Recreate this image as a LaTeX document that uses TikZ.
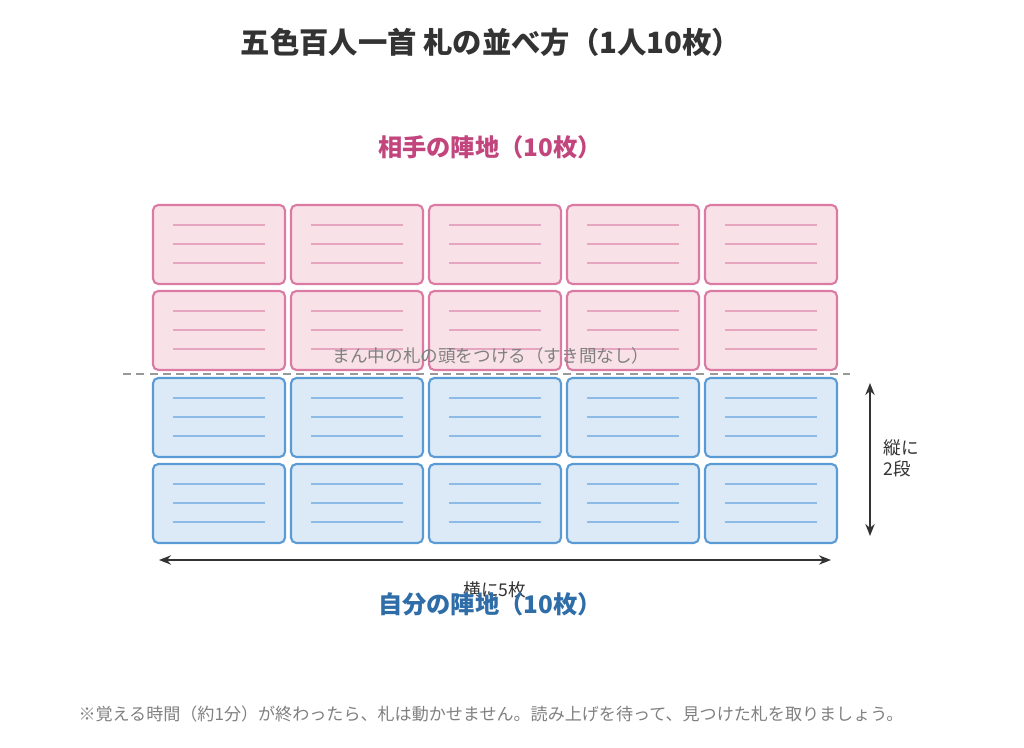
\documentclass[tikz,border=0pt]{standalone}
\usepackage{fontspec}
\setmainfont{Noto Sans CJK JP}
\usetikzlibrary{arrows.meta}
\definecolor{pinkline}{HTML}{DB7AA3}
\definecolor{pinkfill}{HTML}{F9E1E8}
\definecolor{pinkrule}{HTML}{E7A6C0}
\definecolor{pinktext}{HTML}{C2457D}
\definecolor{blueline}{HTML}{5B9BD5}
\definecolor{bluefill}{HTML}{DCEAF8}
\definecolor{bluerule}{HTML}{8DBBE6}
\definecolor{bluetext}{HTML}{2E6DA8}
\definecolor{darktext}{HTML}{333333}
\tikzset{every picture/.style={line width=0.75pt}}
\tikzset{
  card/.style={draw=#1line, fill=#1fill, line width=1.6pt, rounded corners=4pt},
  cardrule/.style={draw=#1rule, line width=1pt},
  note/.style={inner sep=0.75pt, text=darktext, font=\fontsize{13.2}{16}\selectfont},
  dimarrow/.style={{Stealth[length=9pt,width=7pt]}-{Stealth[length=9pt,width=7pt]}, draw=darktext, line width=1.4pt}
}

\begin{document}
\begin{tikzpicture}[x=0.75pt,y=0.75pt,yscale=-1,xscale=1]
    \useasboundingbox (0,0) rectangle (1024,748);

    % cards
    \foreach \col in {0,...,4} {
      \foreach \row/\top/\kind in {0/205/pink,1/291/pink,2/378/blue,3/464/blue} {
        \pgfmathsetmacro{\left}{153+138*\col}
        \draw [card=\kind] (\left,\top) rectangle ++(132,79);
        \foreach \dy in {20,39,58}
          \draw [cardrule=\kind] (\left+20,\top+\dy) -- ++(92,0);
      }
    }

    % center line
    \coordinate (dashL) at (123,374);
    \coordinate (dashR) at (850,374);
    \draw [dashed, draw=gray!80, line width=1.3pt, dash pattern=on 6pt off 4pt] (dashL) -- (dashR);

    % dimension arrows
    \coordinate (vTop) at (870,383);
    \coordinate (vBot) at (870,536);
    \draw [dimarrow] (vTop) -- (vBot);
    \coordinate (hL) at (159,560);
    \coordinate (hR) at (831,560);
    \draw [dimarrow] (hL) -- (hR);

    % Text Node
    \node (title) at (491,42) [text=darktext, font=\fontsize{22}{26}\selectfont\bfseries] {五色百人一首 札の並べ方（1人10枚）};
    % Text Node
    \node (opp) at (490,147) [text=pinktext, font=\fontsize{18.2}{22}\selectfont\bfseries] {相手の陣地（10枚）};
    % Text Node
    \node (mid) at (491,356) [note, text=gray] {まん中の札の頭をつける（すき間なし）};
    % Text Node
    \node (tate) at (882,458) [note, anchor=west, align=left] {縦に\\2段};
    % Text Node
    \node (yoko) at (495,590) [note] {横に5枚};
    % Text Node
    \node (own) at (490,604) [text=bluetext, font=\fontsize{18.2}{22}\selectfont\bfseries] {自分の陣地（10枚）};
    % Text Node
    \node (foot) at (491,714) [text=gray, font=\fontsize{12.8}{15}\selectfont] {※覚える時間（約1分）が終わったら、札は動かせません。読み上げを待って、見つけた札を取りましょう。};
\end{tikzpicture}
\end{document}
